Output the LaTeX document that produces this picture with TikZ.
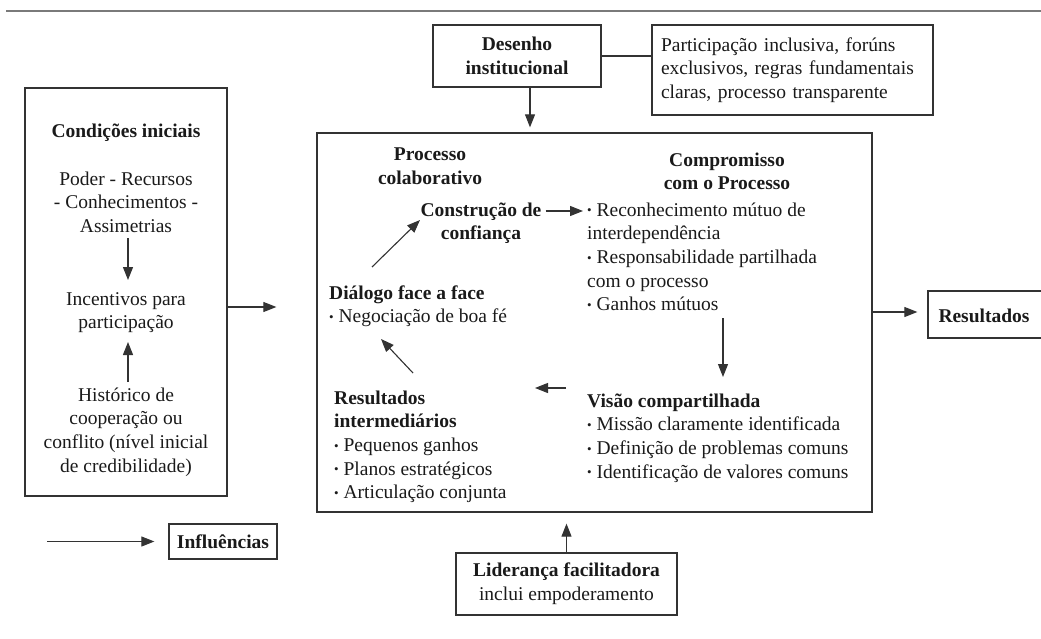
\documentclass[tikz,border=0pt]{standalone}
\usepackage{fontspec}
\setmainfont{Liberation Serif}
\usetikzlibrary{arrows.meta}
\definecolor{ln}{HTML}{333333}
\definecolor{txt}{HTML}{1A1A1A}
\definecolor{rule}{HTML}{7A7A7A}
\newcommand{\bul}{{\fontsize{13}{13}\selectfont\raisebox{1.2pt}{•}}\ }
\begin{document}
\begin{tikzpicture}[x=1pt,y=-1pt,
  every node/.style={font=\fontsize{19.5}{23.7}\selectfont, text=txt, inner sep=0pt},
  hd/.style={font=\fontsize{19.5}{23.7}\selectfont\bfseries},
  box/.style={draw=ln, line width=1.3pt, rectangle},
  arr/.style={draw=ln, line width=1.1pt, -{Triangle[length=13pt,width=10pt]}},
  plain/.style={draw=ln, line width=1.1pt},
]
\useasboundingbox (0,0) rectangle (1041,639);
\draw[rule, line width=1.6pt] (6,11) -- (1041,11);

% boxes
\node[box, minimum width=202, minimum height=408] (leftbox) at (126,292) {};
\node[box, minimum width=555, minimum height=379] (centerbox) at (594.5,322.5) {};
\node[box, hd, align=center, minimum width=168, minimum height=62] (desenho) at (517,56) {Desenho\\institucional};
\node[box, align=left, text width=263, inner xsep=9pt, minimum height=90] (partic) at (792.5,70)
  {Participação inclusiva, forúns\\exclusivos, regras fundamentais\\claras, processo transparente};
\node[box, align=center, minimum width=221, minimum height=62] (lider) at (566.5,584)
  {\textbf{Liderança facilitadora}\\inclui empoderamento};
\node[box, hd, minimum width=108, minimum height=35] (influ) at (223,541.5) {Influências};
\node[box, minimum width=116, minimum height=47] (resbox) at (986,314.5) {};
\node[hd] (res) at (984,316) {Resultados};

% left box texts (base anchor = baseline of the last line)
\node[hd, anchor=base] (cond) at (126,138) {Condições iniciais};
\node[anchor=base, align=center] (poder) at (126,232.4) {Poder - Recursos\\- Conhecimentos -\\Assimetrias};
\node[anchor=base, align=center] (incent) at (126,328.7) {Incentivos para\\participação};
\node[anchor=base, align=center] (hist) at (126,472.1) {Histórico de\\cooperação ou\\conflito (nível inicial\\de credibilidade)};

% center texts
\node[hd, anchor=base, align=center] (proc) at (430,184.7) {Processo\\colaborativo};
\node[hd, anchor=base, align=center] (constr) at (481,239.7) {Construção de\\confiança};
\node[hd, anchor=base, align=center] (comp) at (727,189.7) {Compromisso\\com o Processo};
\node[anchor=base west, align=left] (compl) at (587,310.8)
  {\bul Reconhecimento mútuo de\\interdependência\\\bul Responsabilidade partilhada\\com o processo\\\bul Ganhos mútuos};
\node[anchor=base west, align=left] (dial) at (329,322.7) {\textbf{Diálogo face a face}\\\bul Negociação de boa fé};
\node[anchor=base west, align=left] (visao) at (587,478.1)
  {\textbf{Visão compartilhada}\\\bul Missão claramente identificada\\\bul Definição de problemas comuns\\\bul Identificação de valores comuns};
\node[anchor=base west, align=left] (resint) at (334,498.8)
  {\textbf{Resultados}\\\textbf{intermediários}\\\bul Pequenos ganhos\\\bul Planos estratégicos\\\bul Articulação conjunta};

% connectors
\draw[plain] (desenho.east) -- (desenho.east -| partic.west);
\draw[arr, shorten >=5pt] ([xshift=13pt]desenho.south) -- ([xshift=13pt]desenho.south |- centerbox.north);
\draw[arr, shorten >=11pt] (lider.north) -- (lider.north |- centerbox.south);
\draw[arr] ([yshift=-15pt]leftbox.east) -- ([shift={(-40,-15.5)}]centerbox.west);
\draw[arr] ([yshift=10.5pt]centerbox.east) -- ([shift={(-10,-2.5)}]resbox.west);
\draw[arr] ([xshift=-121pt]influ.west) -- ([xshift=-14pt]influ.west);

\draw[arr] ([shift={(2,5.6)}]poder.base) -- ([shift={(2,-48.7)}]incent.base);
\draw[arr] ([shift={(2,-90.1)}]hist.base) -- ([shift={(2,13.3)}]incent.base);

\draw[arr] ([shift={(4,-28.7)}]constr.base east) -- ([shift={(-4,-99.8)}]compl.base west);
\draw[arr] ([shift={(43,-55.7)}]dial.base west) -- ([shift={(-61,-19.7)}]constr.base);
\draw[arr] ([shift={(136,7.2)}]compl.base west) -- ([shift={(136,-101.1)}]visao.base west);
\draw[arr] ([shift={(-21,-90.1)}]visao.base west) -- ([shift={(201,-110.8)}]resint.base west);
\draw[arr] ([shift={(79,-125.8)}]resint.base west) -- ([shift={(52,16.3)}]dial.base west);
\end{tikzpicture}
\end{document}
